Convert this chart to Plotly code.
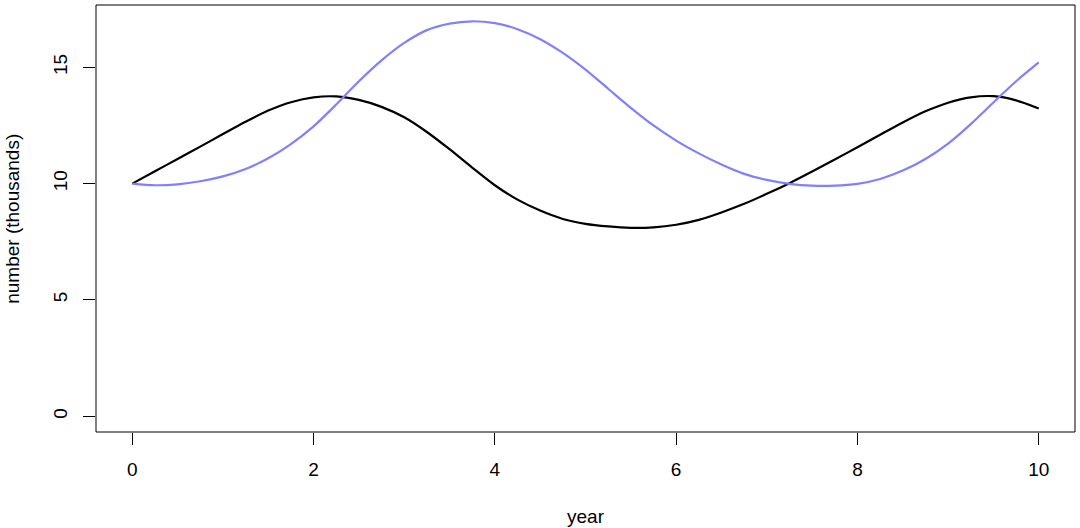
import plotly.graph_objects as go

years = [0, 0.25, 0.5, 0.75, 1.0, 1.25, 1.5, 1.75, 2.0, 2.25, 2.5, 2.75, 3.0, 3.25, 3.5, 3.75,
         4.0, 4.25, 4.5, 4.75, 5.0, 5.25, 5.5, 5.75, 6.0, 6.25, 6.5, 6.75, 7.0, 7.25, 7.5, 7.75,
         8.0, 8.25, 8.5, 8.75, 9.0, 9.25, 9.5, 9.75, 10.0]
series_black = [10.0, 10.53, 11.06, 11.59, 12.13, 12.66, 13.14, 13.5, 13.71, 13.75, 13.6, 13.3, 12.85, 12.22, 11.48, 10.69,
                9.93, 9.31, 8.84, 8.48, 8.27, 8.16, 8.1, 8.12, 8.23, 8.44, 8.76, 9.13, 9.56, 10.02, 10.52, 11.04,
                11.56, 12.1, 12.63, 13.11, 13.48, 13.71, 13.76, 13.58, 13.23]
series_blue = [10.0, 9.93, 9.97, 10.1, 10.31, 10.63, 11.09, 11.7, 12.46, 13.4, 14.4, 15.3, 16.05, 16.6, 16.88, 16.98,
               16.9, 16.64, 16.21, 15.62, 14.9, 14.08, 13.26, 12.5, 11.85, 11.3, 10.82, 10.42, 10.16, 9.99, 9.91, 9.91,
               9.99, 10.2, 10.56, 11.06, 11.72, 12.56, 13.49, 14.4, 15.21]
x_ticks = [0, 2, 4, 6, 8, 10]
y_ticks = [0, 5, 10, 15]

FONT = "Liberation Sans, Arial, sans-serif"

fig = go.Figure()
fig.add_trace(go.Scatter(x=years, y=series_black, mode="lines",
                         line=dict(color="black", width=2.2, shape="spline", smoothing=0.8),
                         showlegend=False, hoverinfo="skip"))
fig.add_trace(go.Scatter(x=years, y=series_blue, mode="lines",
                         line=dict(color="#8080FF", width=2.2, shape="spline", smoothing=0.8),
                         showlegend=False, hoverinfo="skip"))

fig.update_layout(
    width=1080, height=528,
    margin=dict(l=96, r=5, t=5, b=96),
    paper_bgcolor="white", plot_bgcolor="white",
    font=dict(family=FONT, size=19, color="black"),
    xaxis=dict(range=[-0.4, 10.4], tickvals=x_ticks, ticktext=[str(v) for v in x_ticks],
               ticks="outside", ticklen=12, tickcolor="black", tickwidth=1,
               showgrid=False, zeroline=False, showline=False, ticklabelstandoff=8),
    yaxis=dict(range=[-0.68, 17.68], tickvals=y_ticks, ticktext=[str(v) for v in y_ticks],
               ticks="outside", ticklen=12, tickcolor="black", tickwidth=1, tickangle=-90,
               showgrid=False, zeroline=False, showline=False, ticklabelstandoff=8),
    shapes=[dict(type="rect", xref="paper", yref="paper", x0=0, x1=1, y0=0, y1=1,
                 line=dict(color="black", width=1))],
    annotations=[
        dict(text="year", xref="paper", yref="paper", x=0.5, y=-0.197, showarrow=False,
             xanchor="center", yanchor="middle", font=dict(size=19)),
        dict(text="number (thousands)", xref="paper", yref="paper", x=-0.0855, y=0.5,
             showarrow=False, textangle=-90, xanchor="center", yanchor="middle",
             font=dict(size=19)),
    ],
)

fig.write_html("out.html", config={"displayModeBar": False},
               post_script="document.body.style.margin='0';")
